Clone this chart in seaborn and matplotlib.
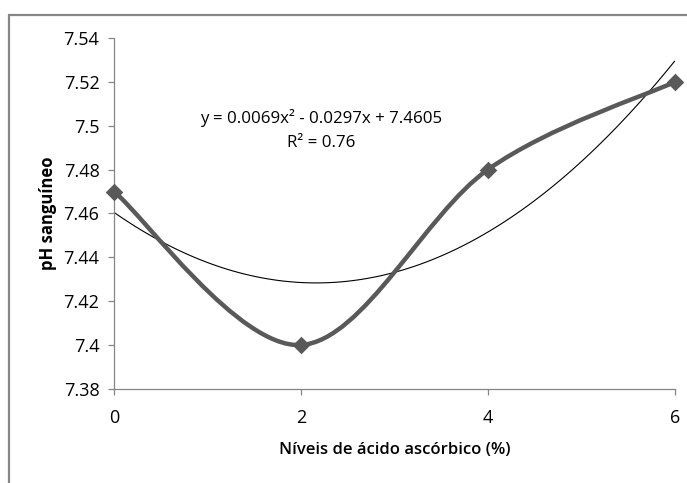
import numpy as np
import pandas as pd
import seaborn as sns
import matplotlib.pyplot as plt
from matplotlib.path import Path
from matplotlib.patches import PathPatch
from matplotlib.lines import Line2D

# data
niveis = [0, 2, 4, 6]
ph = [7.47, 7.40, 7.48, 7.52]
y_ticks = [7.38, 7.40, 7.42, 7.44, 7.46, 7.48, 7.50, 7.52, 7.54]
y_labels = ['7.38', '7.4', '7.42', '7.44', '7.46', '7.48', '7.5', '7.52', '7.54']
x_ticks = [0, 2, 4, 6]
eq_lines = ['y = 0.0069x² - 0.0297x + 7.4605', 'R² = 0.76']

df = pd.DataFrame({'nivel': niveis, 'ph': ph})

sns.set_theme(style='white')
plt.rcParams['font.family'] = ['Open Sans', 'DejaVu Sans']

fig = plt.figure(figsize=(6.87, 4.83), dpi=100)
ax = fig.add_axes([0.166, 0.195, 0.816, 0.726])

gray = '#595959'
axis_gray = '#868686'

# polynomial trendline (order 2), thin black
sns.regplot(data=df, x='nivel', y='ph', order=2, ci=None, scatter=False,
            truncate=True, ax=ax, line_kws=dict(color='black', lw=0.8))

# smoothed line through the points (Excel-style bezier)
pts = df[['nivel', 'ph']].to_numpy(dtype=float)
ext = np.vstack([pts[0], pts, pts[-1]])
verts = [pts[0]]
codes = [Path.MOVETO]
for i in range(len(pts) - 1):
    p0, p1, p2, p3 = ext[i], ext[i + 1], ext[i + 2], ext[i + 3]
    verts += [p1 + (p2 - p0) / 6, p2 - (p3 - p1) / 6, p2]
    codes += [Path.CURVE4] * 3
ax.add_patch(PathPatch(Path(verts, codes), facecolor='none', edgecolor=gray,
                       lw=3.2, capstyle='round', joinstyle='round',
                       clip_on=False, zorder=3))

sns.scatterplot(data=df, x='nivel', y='ph', marker='D', s=80, color=gray,
                edgecolor=gray, linewidth=0, ax=ax, zorder=4, clip_on=False)

ax.set_xlim(0, 6)
ax.set_ylim(7.38, 7.54)
ax.set_xticks(x_ticks)
ax.set_yticks(y_ticks)
ax.set_yticklabels(y_labels)

for s in ['top', 'right']:
    ax.spines[s].set_visible(False)
for s in ['left', 'bottom']:
    ax.spines[s].set_color(axis_gray)
    ax.spines[s].set_linewidth(0.9)
ax.tick_params(axis='both', direction='out', length=4.5, width=0.9,
               color=axis_gray, labelsize=13, labelcolor='black',
               bottom=True, left=True)
ax.tick_params(axis='y', pad=6)
ax.tick_params(axis='x', pad=10)

ax.set_xlabel('Níveis de ácido ascórbico (%)', fontsize=12, fontweight='semibold',
              color='black', labelpad=11)
ax.set_ylabel('pH sanguíneo', fontsize=12, fontweight='bold', color='black',
              labelpad=5)

ax.text(2.22, 7.5035, eq_lines[0], ha='center', va='center', fontsize=12.2,
        color='black')
ax.text(2.22, 7.492, eq_lines[1], ha='center', va='center', fontsize=12.2,
        color='black')

# chart area border (only top and left visible in the crop)
fx = 8.5 / 687
fy = 1 - 14.5 / 483
fig.add_artist(Line2D([fx, fx], [0, fy], color=axis_gray, lw=1.6))
fig.add_artist(Line2D([fx, 1], [fy, fy], color=axis_gray, lw=1.6))

plt.savefig('out.png', dpi=100)
